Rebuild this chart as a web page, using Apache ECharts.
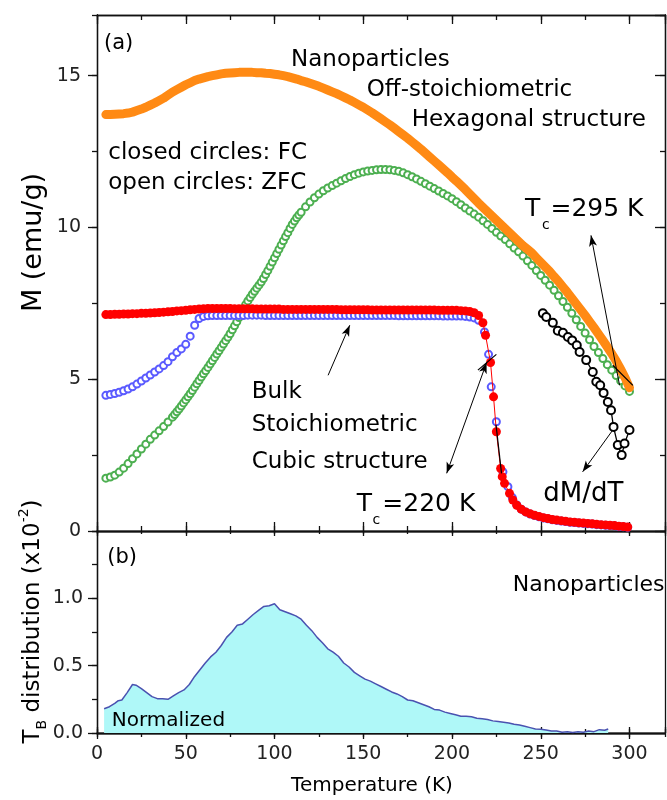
<!DOCTYPE html>
<html><head><meta charset="utf-8">
<script src="https://cdn.jsdelivr.net/npm/echarts@6/dist/echarts.min.js"></script>
<style>html,body{margin:0;padding:0;background:#fff}#c{width:667px;height:800px}</style>
</head><body><div id="c"></div>
<script>
// ---------- data ----------
// Nanoparticles, FC (orange closed circles)
const T_NANO = [5,7.5,10,12.5,15,17.5,20,22.5,25,27.5,30,32.5,35,37.5,40,42.5,45,47.5,50,52.5,55,57.5,60,62.5,65,67.5,70,72.5,75,77.5,80,82.5,85,87.5,90,92.5,95,97.5,100,102.5,105,107.5,110,112.5,115,117.5,120,122.5,125,127.5,130,132.5,135,137.5,140,142.5,145,147.5,150,152.5,155,157.5,160,162.5,165,167.5,170,172.5,175,177.5,180,182.5,185,187.5,190,192.5,195,197.5,200,202.5,205,207.5,210,212.5,215,217.5,220,222.5,225,227.5,230,232.5,235,237.5,240,242.5,245,247.5,250,252.5,255,257.5,260,262.5,265,267.5,270,272.5,275,277.5,280,282.5,285,287.5,290,292.5,295,297.5,300];
const M_FC_NANO = [13.72,13.72,13.73,13.74,13.75,13.77,13.8,13.85,13.9,13.96,
14.03,14.1,14.18,14.26,14.36,14.46,14.54,14.62,14.7,14.77,
14.84,14.89,14.93,14.97,15.0,15.03,15.06,15.08,15.09,15.1,
15.11,15.11,15.11,15.11,15.1,15.1,15.08,15.07,15.05,15.03,
15.0,14.97,14.93,14.89,14.84,14.8,14.75,14.7,14.65,14.59,
14.53,14.47,14.41,14.34,14.27,14.2,14.12,14.04,13.96,13.87,
13.78,13.68,13.58,13.48,13.38,13.27,13.16,13.05,12.94,12.82,
12.7,12.58,12.45,12.32,12.19,12.06,11.93,11.8,11.66,11.53,
11.39,11.25,11.1,10.95,10.8,10.66,10.52,10.38,10.24,10.1,
9.96,9.82,9.68,9.54,9.4,9.28,9.16,9.0,8.85,8.7,
8.55,8.38,8.22,8.04,7.86,7.67,7.48,7.29,7.1,6.9,
6.7,6.49,6.28,6.06,5.84,5.6,5.33,5.05,4.72];

// Nanoparticles, ZFC (green open circles)
const T_ZFC_NANO = [5,7.5,10,12.5,15,17.5,20,22.5,25,27.5,30,32.5,35,37.5,40,42.5,
43.75,45,46.25,47.5,48.75,50,51.25,52.5,53.75,55,56.25,57.5,58.75,60,61.25,62.5,63.75,65,66.25,67.5,68.75,70,71.25,72.5,73.75,75,76.25,77.5,78.75,80,81.25,82.5,83.75,85,86.25,87.5,88.75,90,91.25,92.5,93.75,95,96.25,97.5,98.75,100,101.25,102.5,103.75,105,106.25,107.5,108.75,110,111.25,112.5,113.75,115,
117.5,120,122.5,125,127.5,130,132.5,135,137.5,140,142.5,145,147.5,150,152.5,155,157.5,160,162.5,165,167.5,170,172.5,175,177.5,180,182.5,185,187.5,190,192.5,195,197.5,200,202.5,205,207.5,210,212.5,215,217.5,220,222.5,225,227.5,230,232.5,235,237.5,240,242.5,245,247.5,250,252.5,255,257.5,260,262.5,265,267.5,270,272.5,275,277.5,280,282.5,285,287.5,290,292.5,295,297.5,300];
const M_ZFC_NANO = [1.74,1.78,1.84,1.94,2.07,2.22,2.38,2.54,2.7,2.86,3.02,3.16,3.3,3.44,3.59,3.75,
3.84,3.93,4.02,4.12,4.22,4.32,4.42,4.52,4.63,4.74,4.85,4.96,5.07,5.18,5.28,5.39,5.5,5.61,5.72,5.83,5.94,6.05,6.16,6.27,6.38,6.5,6.63,6.76,6.89,7.03,7.18,7.33,7.46,7.58,7.69,7.8,7.9,8.0,8.1,8.2,8.32,8.45,8.58,8.72,8.86,9.0,9.14,9.28,9.42,9.56,9.7,9.83,9.97,10.1,10.21,10.32,10.41,10.5,
10.68,10.84,10.98,11.1,11.21,11.3,11.38,11.46,11.54,11.61,
11.68,11.74,11.79,11.83,11.86,11.88,11.9,11.91,11.91,11.9,
11.88,11.85,11.8,11.74,11.67,11.6,11.52,11.44,11.36,11.28,
11.2,11.12,11.04,10.95,10.85,10.75,10.64,10.54,10.44,10.34,
10.22,10.1,9.97,9.84,9.72,9.6,9.46,9.32,9.2,9.06,
8.9,8.75,8.58,8.42,8.26,8.1,7.93,7.75,7.56,7.37,
7.17,6.96,6.74,6.52,6.3,6.08,5.88,5.68,5.48,5.3,
5.12,4.95,4.78,4.6];

// Bulk, shared low-temperature grid
const T_BULK_LOW = [5,7.5,10,12.5,15,17.5,20,22.5,25,27.5,30,32.5,35,37.5,40,42.5,45,47.5,50,52.5,55,57.5,60,62.5,65,67.5,70,72.5,75,77.5,80,82.5,85,87.5,90,92.5,95,97.5,100,102.5,105,107.5,110,112.5,115,117.5,120,122.5,125,127.5,130,132.5,135,137.5,140,142.5,145,147.5,150,152.5,155,157.5,160,162.5,165,167.5,170,172.5,175,177.5,180,182.5,185,187.5,190,192.5,195,197.5,200,202.5,205,207.5,210,212.5,215];

// Bulk, FC (red closed circles)
const T_FC_BULK_HIGH = [217.4,218.9,221.7,223.4,225,227.4,228.3,229.6,232.4,234.3,236.5,239,241.5,244,246.5,249,251.5,254,256.5,259,261.5,264,266.5,269,271.5,274,276.5,279,281.5,284,286.5,289,291.5,294,296.5,299];
const M_FC_BULK = [7.13,7.13,7.14,7.14,7.15,7.15,7.16,7.16,7.17,7.17,
7.18,7.19,7.2,7.21,7.22,7.23,7.25,7.26,7.27,7.29,
7.3,7.31,7.32,7.33,7.33,7.33,7.33,7.33,7.33,7.32,
7.32,7.32,7.32,7.32,7.31,7.31,7.31,7.31,7.31,7.31,
7.3,7.3,7.3,7.3,7.3,7.3,7.3,7.3,7.3,7.3,
7.3,7.3,7.3,7.29,7.29,7.29,7.29,7.29,7.29,7.29,
7.28,7.28,7.28,7.28,7.28,7.28,7.28,7.28,7.28,7.28,
7.28,7.28,7.28,7.28,7.28,7.27,7.27,7.27,7.27,7.27,
7.26,7.25,7.23,7.19,7.1,
6.86,6.45,5.55,4.42,3.27,2.06,1.79,1.57,1.24,1.02,
0.85,0.72,0.63,0.57,0.52,0.48,0.44,0.41,0.38,0.36,
0.34,0.32,0.3,0.29,0.27,0.26,0.25,0.24,0.22,0.21,
0.2,0.19,0.18,0.16,0.15,0.13];

// Bulk, ZFC (blue open circles)
const T_ZFC_BULK_HIGH = [218.3,220.6,222.1,225,228.7,231.5,234,236.5,239,241.5,244,246.5,249,251.5,254,256.5,259,261.5,264,266.5,269,271.5,274,276.5,279,281.5,284,286.5,289,291.5,294,296.5,299];
const M_ZFC_BULK = [4.47,4.5,4.53,4.57,4.62,4.68,4.75,4.84,4.94,5.04,
5.14,5.24,5.34,5.45,5.58,5.74,5.88,6.0,6.15,6.42,
6.78,7.0,7.07,7.09,7.1,7.1,7.1,7.1,7.1,7.1,
7.1,7.1,7.11,7.11,7.11,7.11,7.1,7.1,7.1,7.1,
7.1,7.1,7.1,7.1,7.1,7.1,7.1,7.1,7.1,7.1,
7.1,7.1,7.1,7.1,7.1,7.1,7.1,7.1,7.1,7.1,
7.1,7.1,7.1,7.1,7.1,7.1,7.09,7.09,7.09,7.09,
7.09,7.09,7.09,7.09,7.09,7.09,7.08,7.08,7.08,7.08,
7.08,7.07,7.05,7.02,6.94,
6.56,5.82,4.75,3.6,1.95,1.46,
1.1,0.86,0.72,0.63,0.56,0.51,0.47,0.43,0.4,0.37,
0.35,0.33,0.31,0.29,0.28,0.26,0.25,0.24,0.23,0.21,
0.2,0.19,0.18,0.17,0.15,0.14,0.12];

// dM/dT (black open circles, arbitrary scale)
const T_DMDT = [251.2,253.1,256.8,259.6,262.5,265.3,267.7,270.3,271.9,275.6,279.3,281.3,283.5,285.4,287.8,289.6,291,293.4,295.6,297.2,300];
const M_DMDT = [7.17,7.05,6.86,6.6,6.53,6.39,6.28,6.12,5.9,5.63,5.24,4.92,4.8,4.55,4.25,3.98,3.43,2.83,2.5,2.88,3.33];

// (b) T_B distribution
const T_TB = [4,7,10,12,14,17,20,22,25,28,31,34,37,40,43,46,49,52,55,58,61,64,67,70,73,76,79,82,85,88,91,94,97,100,103,106,109,112,115,118,121,124,127,130,133,136,139,142,145,148,151,154,157,160,163,166,169,172,175,178,181,184,187,190,193,196,199,202,205,208,211,214,217,220,223,226,229,232,235,238,241,244,247,250,253,256,259,262,265,268,271,274,277,280,283,286,288];
const P_TB = [0.18,0.195,0.22,0.24,0.245,0.30,0.36,0.355,0.33,0.30,
0.27,0.255,0.255,0.25,0.275,0.30,0.32,0.36,0.42,0.47,
0.52,0.565,0.60,0.65,0.71,0.75,0.80,0.81,0.845,0.88,
0.91,0.94,0.945,0.96,0.915,0.90,0.885,0.87,0.845,0.80,
0.76,0.71,0.67,0.625,0.60,0.57,0.52,0.49,0.45,0.425,
0.40,0.385,0.365,0.345,0.325,0.305,0.29,0.27,0.245,0.24,
0.225,0.21,0.195,0.175,0.17,0.155,0.145,0.135,0.125,0.125,
0.12,0.11,0.105,0.10,0.09,0.085,0.08,0.075,0.065,0.06,
0.05,0.04,0.03,0.028,0.022,0.015,0.015,0.005,0.01,0.003,
0.01,0.005,0.015,0.01,0.025,0.02,0.03];

// annotation lines (data coordinates of panel a)
const ARROWS_ONE = [[[130.2,5.13],[142.4,6.78]], [[294.4,4.8],[278.3,9.74]], [[290.5,3.32],[273.6,1.95]]];
const ARROWS_TWO = [[[197,1.9],[219.5,5.55]]];
const SEGMENTS = [[[290.6,5.46],[301.9,4.8]], [[214.6,5.3],[225,5.82]], [[224.8,3.5],[227.9,1.9]]];

// ---------- chart ----------
const pairs = (xs, ys) => xs.map((x, i) => [x, ys[i]]);
const FONT = 'DejaVu Sans';
const AXL = {color:'#111', width:1.3};

function axis(grid, pos, min, max, interval, inside, len, label) {
  return {
    type:'value', gridIndex:grid, position:pos, min:min, max:max, interval:interval,
    axisLine:{show:true, onZero:false, lineStyle:AXL},
    axisTick:{show:len > 0, inside:inside, length:len, lineStyle:AXL},
    splitLine:{show:false},
    axisLabel: label ? Object.assign({show:true, fontFamily:FONT, fontSize:19, color:'#222', showMaxLabel:false}, label) : {show:false},
    axisPointer:{show:false}
  };
}

function txt(x, y, text, size, align) {
  return {type:'text', x:x, y:y, z:100, silent:true,
    style:{text:text, fontSize:size, fontFamily:FONT, fill:'#000', align:align || 'left', verticalAlign:'middle'}};
}

const RED_PTS = pairs(T_BULK_LOW.concat(T_FC_BULK_HIGH), M_FC_BULK);

const chart = echarts.init(document.getElementById('c'), null, {renderer:'canvas'});
chart.setOption({
  animation:false,
  backgroundColor:'#fff',
  textStyle:{fontFamily:FONT},
  grid:[
    {left:97, top:15, width:568, height:516},
    {left:97, top:531, width:568, height:202}
  ],
  xAxis:[
    axis(0,'bottom',0,320,50,true,9),
    axis(0,'bottom',0,320,25,true,5),
    axis(0,'top',0,320,50,true,9),
    axis(0,'top',0,320,25,true,5),
    axis(1,'bottom',0,320,50,false,6,{margin:12}),
    axis(1,'bottom',0,320,25,false,4),
    axis(1,'bottom',0,320,50,true,6),
    axis(1,'bottom',0,320,25,true,4),
    axis(1,'top',0,320,50,true,5),
    axis(1,'top',0,320,25,true,3)
  ],
  yAxis:[
    axis(0,'left',0,17,5,false,9,{margin:16}),
    axis(0,'left',0,17,2.5,false,5),
    axis(0,'right',0,17,5,true,10),
    axis(0,'right',0,17,2.5,true,5),
    axis(1,'left',0,1.5,0.5,false,9,{margin:14, formatter:v => v.toFixed(1)}),
    axis(1,'left',0,1.5,0.25,false,5),
    axis(1,'right',0,1.5,0.5,true,0)
  ],
  series:[
    {type:'scatter', xAxisIndex:0, yAxisIndex:0, data:pairs(T_ZFC_NANO, M_ZFC_NANO), z:2,
     symbol:'emptyCircle', symbolSize:7, itemStyle:{color:'#4caf50', borderWidth:1, opacity:1}, silent:true},
    {type:'line', xAxisIndex:0, yAxisIndex:0, data:pairs(T_NANO, M_FC_NANO), symbol:'none', z:3,
     lineStyle:{color:'#ff8a14', width:9, cap:'round', join:'round'}, silent:true},
    {type:'scatter', xAxisIndex:0, yAxisIndex:0, data:pairs(T_BULK_LOW.concat(T_ZFC_BULK_HIGH), M_ZFC_BULK), z:3,
     symbol:'emptyCircle', symbolSize:7, itemStyle:{color:'#5a5aff', borderWidth:1, opacity:1}, silent:true},
    {type:'line', xAxisIndex:0, yAxisIndex:0, data:RED_PTS, z:4, symbol:'none',
     lineStyle:{color:'#ff0000', width:1}, silent:true},
    {type:'scatter', xAxisIndex:0, yAxisIndex:0, data:RED_PTS, z:4,
     symbol:'circle', symbolSize:9, itemStyle:{color:'#ff0000', opacity:1}, silent:true},
    {type:'line', xAxisIndex:0, yAxisIndex:0, data:pairs(T_DMDT, M_DMDT), z:5,
     symbol:'emptyCircle', symbolSize:8, showSymbol:true, itemStyle:{color:'#000', borderWidth:1},
     lineStyle:{color:'#000', width:1.3}, silent:true},
    {type:'line', xAxisIndex:4, yAxisIndex:4, data:pairs(T_TB, P_TB), symbol:'none',
     lineStyle:{color:'#4a52b0', width:1.5}, areaStyle:{color:'#aff8f8', opacity:1}, silent:true},
    {type:'lines', coordinateSystem:'cartesian2d', xAxisIndex:0, yAxisIndex:0, polyline:false,
     data:ARROWS_ONE.map(c => ({coords:c})), symbol:['none','arrow'], symbolSize:[[6,11],[6,11]],
     lineStyle:{color:'#000', width:1, opacity:1}, z:10, silent:true},
    {type:'lines', coordinateSystem:'cartesian2d', xAxisIndex:0, yAxisIndex:0, polyline:false,
     data:ARROWS_TWO.map(c => ({coords:c})), symbol:['arrow','arrow'], symbolSize:[[6,11],[6,11]],
     lineStyle:{color:'#000', width:1, opacity:1}, z:10, silent:true},
    {type:'lines', coordinateSystem:'cartesian2d', xAxisIndex:0, yAxisIndex:0, polyline:false,
     data:SEGMENTS.map(c => ({coords:c})), symbol:'none',
     lineStyle:{color:'#000', width:1.2, opacity:1}, z:10, silent:true}
  ],
  graphic:[
    txt(104,44,'(a)',21),
    txt(291,60,'Nanoparticles',23),
    txt(366.7,89.8,'Off-stoichiometric',23),
    txt(411.7,119.8,'Hexagonal structure',23),
    txt(108.3,153.3,'closed circles: FC',23),
    txt(108.3,182.8,'open circles: ZFC',23),
    txt(525,209.2,'T',25), txt(542,225,'c',14), txt(550.5,209.2,'=295 K',25),
    txt(251.7,391.6,'Bulk',23), txt(251.7,425,'Stoichiometric',23), txt(251.7,461.6,'Cubic structure',23),
    txt(356.7,504.2,'T',25), txt(372.5,520.2,'c',14), txt(382.3,504.2,'=220 K',25),
    txt(543.3,493.8,'dM/dT',26),
    txt(107.3,557.5,'(b)',21),
    txt(664.5,585,'Nanoparticles',22,'right'),
    txt(111.7,720.8,'Normalized',20),
    txt(372,786,'Temperature (K)',20,'center'),
    {type:'text', x:33.5, y:242.5, rotation:Math.PI/2, z:100, silent:true,
     style:{text:'M (emu/g)', fontSize:27, fontFamily:FONT, fill:'#000', align:'center', verticalAlign:'middle'}},
    {type:'text', x:33, y:621.5, rotation:Math.PI/2, z:100, silent:true,
     style:{text:'{m|T}{s|B}{m| distribution (x10}{p|-2}{m|)}', fill:'#000', align:'center', verticalAlign:'middle',
       rich:{
         m:{fontSize:23, fontFamily:FONT, lineHeight:32, verticalAlign:'middle'},
         s:{fontSize:14, fontFamily:FONT, lineHeight:14, verticalAlign:'bottom'},
         p:{fontSize:14, fontFamily:FONT, lineHeight:14, verticalAlign:'top'}
       }}}
  ]
});
</script>
</body></html>
